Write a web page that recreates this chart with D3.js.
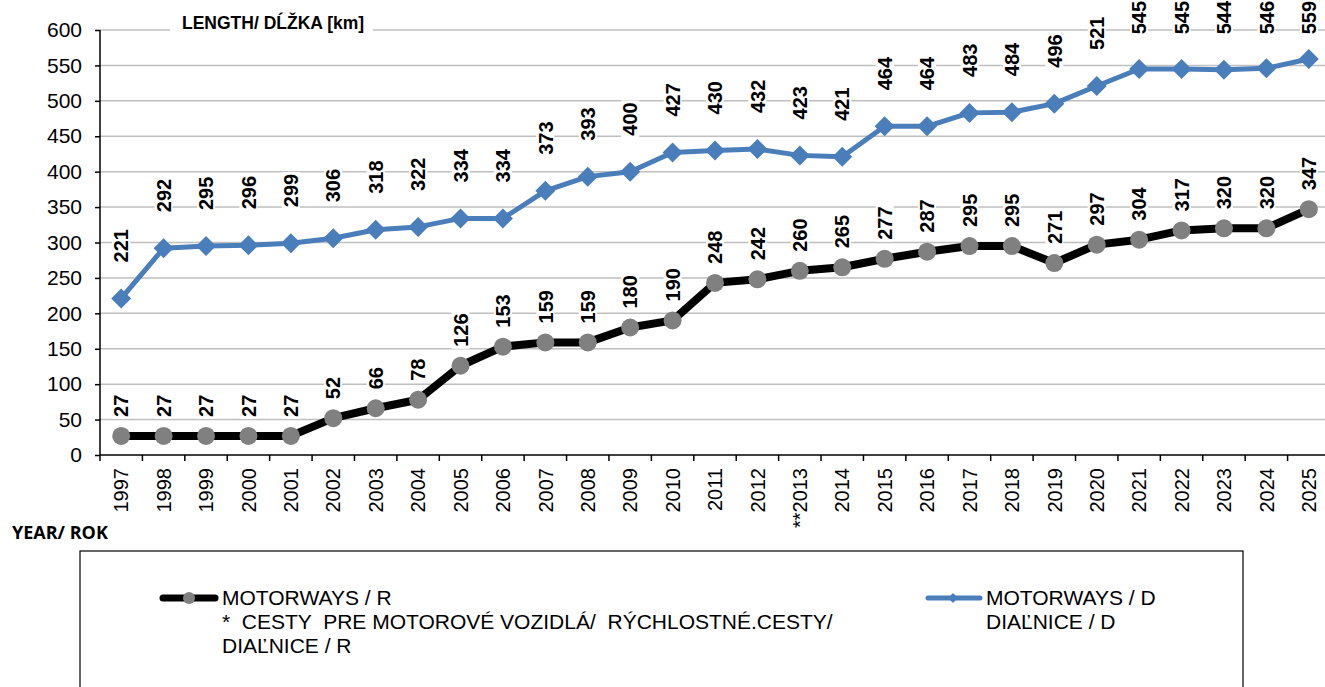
<!DOCTYPE html>
<html>
<head>
<meta charset="utf-8">
<script src="https://cdn.jsdelivr.net/npm/d3@7"></script>
<style>
  body { margin: 0; background: #fff; }
  svg { display: block; font-family: Arial, "Liberation Sans", sans-serif; }
</style>
</head>
<body>
<div id="chart"></div>
<script>
// chart data
const years = ["1997","1998","1999","2000","2001","2002","2003","2004","2005","2006","2007","2008","2009","2010",
  "2011","2012","**2013","2014","2015","2016","2017","2018","2019","2020","2021","2022","2023","2024","2025"];
const rValues = [27,27,27,27,27,52,66,78,126,153,159,159,180,190,243,248,260,265,277,287,295,295,271,297,304,317,320,320,347];
const rLabels = ["27","27","27","27","27","52","66","78","126","153","159","159","180","190","248","242","260","265","277","287","295","295","271","297","304","317","320","320","347"];
const dValues = [221,292,295,296,299,306,318,322,334,334,373,393,400,427,430,432,423,421,464,464,483,484,496,521,545,545,544,546,559];
const yTicks = [0,50,100,150,200,250,300,350,400,450,500,550,600];

const width = 1325;
const height = 687;
const margin = {left: 100, top: 30, bottom: 455, right: 1330};
const blue = "#4a7ebb";

const svg = d3.select("#chart")
  .append("svg")
  .attr("width", width)
  .attr("height", height);

// scales
const x = d3.scaleBand()
  .domain(years)
  .range([margin.left, margin.right])
  .padding(0);
const cx = d => x(d) + x.bandwidth() / 2;

const y = d3.scaleLinear()
  .domain([0, 600])
  .range([margin.bottom, margin.top]);

// gridlines
svg.append("g")
  .selectAll("line")
  .data(yTicks.slice(1))
  .join("line")
    .attr("x1", margin.left)
    .attr("x2", width)
    .attr("y1", d => y(d))
    .attr("y2", d => y(d))
    .attr("stroke", "#bfbfbf")
    .attr("stroke-width", 1.5);

// y axis title with white box over the top gridline
svg.append("rect")
  .attr("x", 170).attr("y", 14).attr("width", 203).attr("height", 22)
  .attr("fill", "#fff");
svg.append("text")
  .attr("x", 182).attr("y", 29)
  .attr("font-size", "17.5px").attr("font-weight", "bold")
  .text("LENGTH/ DĹŽKA [km]");

// y axis
const yAxis = svg.append("g")
  .attr("transform", `translate(${margin.left},0)`)
  .call(d3.axisLeft(y).tickValues(yTicks).tickSize(5).tickPadding(13));
yAxis.selectAll("text").attr("font-size", "21px").attr("fill", "#000").attr("font-family", "Arial");
yAxis.selectAll("line, path").attr("stroke", "#000").attr("stroke-width", 1.5);
yAxis.select(".domain").attr("d", `M0,${margin.bottom}V${margin.top}`);

// x axis
const xAxis = svg.append("g")
  .attr("transform", `translate(0,${margin.bottom})`)
  .call(d3.axisBottom(x).tickSize(0));
xAxis.select(".domain").attr("stroke", "#000").attr("stroke-width", 1.5)
  .attr("d", `M${margin.left},0H${width}`);
xAxis.selectAll("text")
  .attr("font-size", "20px").attr("fill", "#000").attr("font-family", "Arial")
  .attr("text-anchor", "end")
  .attr("transform", "rotate(-90)")
  .attr("x", -13).attr("y", 0).attr("dy", "0.36em");
// tick marks between categories
xAxis.selectAll(".sep")
  .data(years)
  .join("line")
    .attr("class", "sep")
    .attr("x1", d => x(d)).attr("x2", d => x(d))
    .attr("y1", 0).attr("y2", 6)
    .attr("stroke", "#000").attr("stroke-width", 1.5);

// lines
const lineR = d3.line().x((d, i) => cx(years[i])).y(d => y(d));
svg.append("path")
  .datum(rValues)
  .attr("fill", "none").attr("stroke", "#000").attr("stroke-width", 8)
  .attr("stroke-linejoin", "round")
  .attr("d", lineR);
svg.append("path")
  .datum(dValues)
  .attr("fill", "none").attr("stroke", blue).attr("stroke-width", 5)
  .attr("stroke-linejoin", "round")
  .attr("d", lineR);

// markers
svg.append("g").selectAll("circle")
  .data(rValues)
  .join("circle")
    .attr("cx", (d, i) => cx(years[i]))
    .attr("cy", d => y(d))
    .attr("r", 9)
    .attr("fill", "#808080");
svg.append("g").selectAll("path")
  .data(dValues)
  .join("path")
    .attr("transform", (d, i) => `translate(${cx(years[i])},${y(d)})`)
    .attr("d", "M0,-10L10,0L0,10L-10,0Z")
    .attr("fill", blue);

// data labels (rotated, with white background)
function addLabels(values, labels, gap) {
  const g = svg.append("g");
  values.forEach((v, i) => {
    let base = y(v) - gap;
    const len = labels[i].length * 11.1;
    if (base - len < 1) base = len + 1;
    const lg = g.append("g").attr("transform", `translate(${cx(years[i])},${base}) rotate(-90)`);
    lg.append("rect")
      .attr("x", -2).attr("y", -9).attr("width", len + 4).attr("height", 18)
      .attr("fill", "#fff");
    lg.append("text")
      .attr("font-size", "20px").attr("font-weight", "bold")
      .attr("dy", "0.36em")
      .text(labels[i]);
  });
}
addLabels(rValues, rLabels, 19);
addLabels(dValues, dValues.map(String), 36);

// x axis title
svg.append("text")
  .attr("x", 12).attr("y", 539)
  .attr("font-family", "'Open Sans', sans-serif")
  .attr("font-size", "18px").attr("font-weight", "bold")
  .text("YEAR/ ROK");

// legend
svg.append("rect")
  .attr("x", 80).attr("y", 551).attr("width", 1163).attr("height", 160)
  .attr("fill", "none").attr("stroke", "#000").attr("stroke-width", 1.2);

const leg = svg.append("g").attr("font-size", "21px");
leg.append("line")
  .attr("x1", 163).attr("x2", 215).attr("y1", 598).attr("y2", 598)
  .attr("stroke", "#000").attr("stroke-width", 7).attr("stroke-linecap", "round");
leg.append("circle").attr("cx", 189).attr("cy", 598).attr("r", 6).attr("fill", "#808080");
const legR = ["MOTORWAYS / R", "*  CESTY  PRE MOTOROVÉ VOZIDLÁ/  RÝCHLOSTNÉ.CESTY/", "DIAĽNICE / R"];
leg.selectAll(".lr")
  .data(legR)
  .join("text")
    .attr("class", "lr")
    .attr("x", 222).attr("y", (d, i) => 605 + i * 24)
    .style("white-space", "pre")
    .text(d => d);

leg.append("line")
  .attr("x1", 928).attr("x2", 980).attr("y1", 598).attr("y2", 598)
  .attr("stroke", blue).attr("stroke-width", 5).attr("stroke-linecap", "round");
leg.append("path")
  .attr("transform", "translate(953,598)")
  .attr("d", "M0,-5L5,0L0,5L-5,0Z").attr("fill", blue);
const legD = ["MOTORWAYS / D", "DIAĽNICE / D"];
leg.selectAll(".ld")
  .data(legD)
  .join("text")
    .attr("class", "ld")
    .attr("x", 986).attr("y", (d, i) => 605 + i * 24)
    .text(d => d);
</script>
</body>
</html>
